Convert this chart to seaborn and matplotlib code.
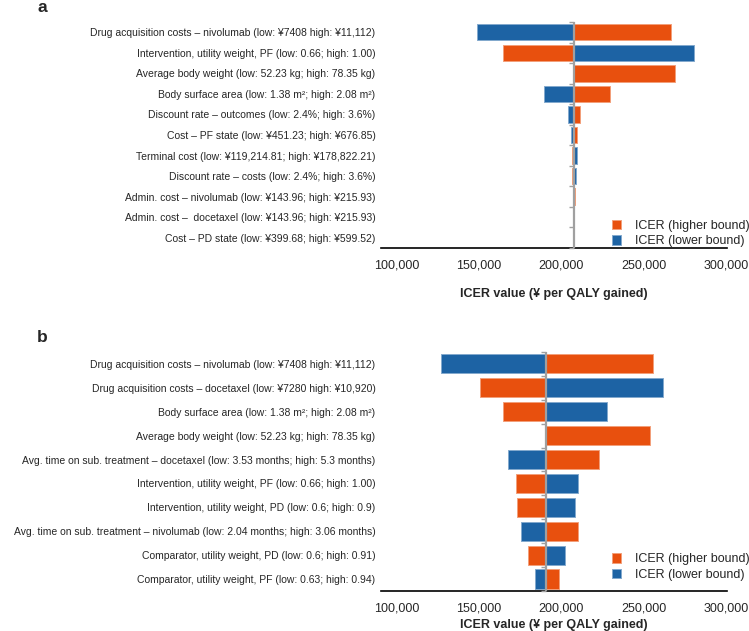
import numpy as np
import pandas as pd
import matplotlib
matplotlib.use("Agg")
import matplotlib.pyplot as plt
import seaborn as sns
from matplotlib.colors import to_rgb

sns.set_theme(style="white")
plt.rcParams['font.family'] = ['Liberation Sans', 'DejaVu Sans']

# ---------------- data ----------------
labels_a = [
    "Drug acquisition costs \u2013 nivolumab (low: \u00a57408 high: \u00a511,112)",
    "Intervention, utility weight, PF (low: 0.66; high: 1.00)",
    "Average body weight (low: 52.23 kg; high: 78.35 kg)",
    "Body surface area (low: 1.38 m\u00b2; high: 2.08 m\u00b2)",
    "Discount rate \u2013 outcomes (low: 2.4%; high: 3.6%)",
    "Cost \u2013 PF state (low: \u00a5451.23; high: \u00a5676.85)",
    "Terminal cost (low: \u00a5119,214.81; high: \u00a5178,822.21)",
    "Discount rate \u2013 costs (low: 2.4%; high: 3.6%)",
    "Admin. cost \u2013 nivolumab (low: \u00a5143.96; high: \u00a5215.93)",
    "Admin. cost \u2013  docetaxel (low: \u00a5143.96; high: \u00a5215.93)",
    "Cost \u2013 PD state (low: \u00a5399.68; high: \u00a5599.52)",
]
base_a = 207600
icer_lower_a = [148900, 280600, 207600, 189600, 203900, 205800, 209200, 208800, 207300, 207600, 207600]
icer_higher_a = [266400, 164700, 269100, 229200, 211400, 209600, 206200, 206400, 208200, 207600, 207600]

labels_b = [
    "Drug acquisition costs \u2013 nivolumab (low: \u00a57408 high: \u00a511,112)",
    "Drug acquisition costs \u2013 docetaxel (low: \u00a57280 high: \u00a510,920)",
    "Body surface area (low: 1.38 m\u00b2; high: 2.08 m\u00b2)",
    "Average body weight (low: 52.23 kg; high: 78.35 kg)",
    "Avg. time on sub. treatment \u2013 docetaxel (low: 3.53 months; high: 5.3 months)",
    "Intervention, utility weight, PF (low: 0.66; high: 1.00)",
    "Intervention, utility weight, PD (low: 0.6; high: 0.9)",
    "Avg. time on sub. treatment \u2013 nivolumab (low: 2.04 months; high: 3.06 months)",
    "Comparator, utility weight, PD (low: 0.6; high: 0.91)",
    "Comparator, utility weight, PF (low: 0.63; high: 0.94)",
]
base_b = 190600
icer_lower_b = [126700, 261600, 227600, 190600, 167300, 210000, 208400, 175400, 202300, 183700]
icer_higher_b = [255500, 150500, 164500, 253900, 222600, 172200, 173000, 209800, 179900, 198700]

x_ticks = [100000, 150000, 200000, 250000, 300000]
x_min, x_max = 90500, 300400

HI = "ICER (higher bound)"
LO = "ICER (lower bound)"
ORANGE = "#E8500E"
BLUE = "#1D63A4"
GRAY = "#a0a0a0"


def lighten(c, f=0.45):
    r, g, b = to_rgb(c)
    return (r + (1 - r) * f, g + (1 - g) * f, b + (1 - b) * f)


def tornado(ax, labels, base, lower, higher, xlabelpad, legend_y):
    df = pd.DataFrame({
        "label": labels * 2,
        "bound": [HI] * len(labels) + [LO] * len(labels),
        "delta": list(np.array(higher) - base) + list(np.array(lower) - base),
    })
    sns.barplot(data=df, x="delta", y="label", hue="bound", order=labels,
                hue_order=[HI, LO], palette={HI: ORANGE, LO: BLUE},
                dodge=False, orient="h", width=0.8, errorbar=None,
                saturation=1, ax=ax)
    for p in ax.patches:
        p.set_edgecolor(lighten(p.get_facecolor()))
        p.set_linewidth(0.7)
    n = len(labels)
    ax.set_ylim(n - 0.5, -0.5)
    ax.set_xlim(x_min - base, x_max - base)
    ax.set_xticks([t - base for t in x_ticks])
    ax.set_xticklabels([f"{t:,}" for t in x_ticks], fontsize=9)
    ax.set_yticks(range(n))
    ax.set_yticklabels(labels, fontsize=7.5)
    ax.tick_params(axis="y", length=0, pad=4)
    ax.tick_params(axis="x", length=4, width=1, color="black", direction="out", pad=4.5)
    for s in ["left", "right", "top"]:
        ax.spines[s].set_visible(False)
    ax.spines["bottom"].set_color("black")
    ax.spines["bottom"].set_linewidth(1.2)
    # centre line with small boundary ticks
    ax.axvline(0, color=GRAY, lw=1.6, zorder=3)
    bounds = np.arange(n + 1) - 0.5
    ax.plot(np.zeros(len(bounds)), bounds, ls="", marker=0, ms=3.5,
            mew=1, color=GRAY, zorder=3, clip_on=False)
    ax.set_xlabel("ICER value (\u00a5 per QALY gained)", fontsize=9,
                  fontweight="bold", labelpad=xlabelpad)
    ax.set_ylabel("")
    handles, labs = ax.get_legend_handles_labels()
    ax.legend(handles, labs, frameon=False, loc="lower right",
              bbox_to_anchor=(1.09, legend_y), fontsize=9,
              handlelength=0.75, handleheight=0.75, handletextpad=1.1,
              labelspacing=0.3, borderpad=0.2)


fig = plt.figure(figsize=(7.49, 6.31), dpi=100)
ax_a = fig.add_axes([0.5087, 0.6070, 0.4619, 0.3582])
ax_b = fig.add_axes([0.5087, 0.0634, 0.4619, 0.3788])

tornado(ax_a, labels_a, base_a, icer_lower_a, icer_higher_a, 12, -0.036)
tornado(ax_b, labels_b, base_b, icer_lower_b, icer_higher_b, 3, 0.005)

fig.text(42 / 749, 1 - 8 / 631, "a", fontsize=12.5, fontweight="bold", ha="center", va="center")
fig.text(42 / 749, 1 - 338 / 631, "b", fontsize=12.5, fontweight="bold", ha="center", va="center")

fig.savefig("out.png", dpi=100)
